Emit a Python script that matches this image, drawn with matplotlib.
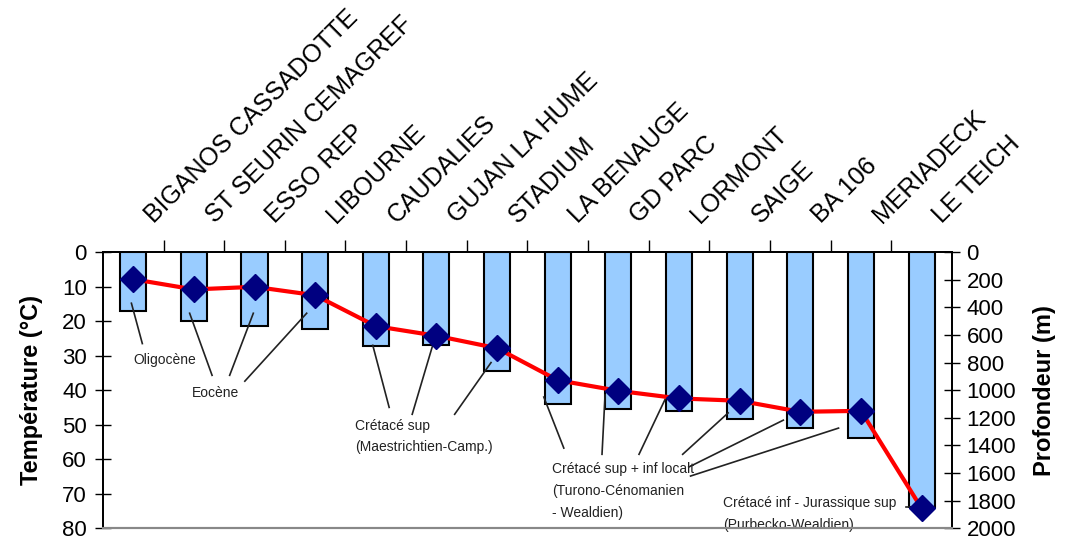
import matplotlib.pyplot as plt
import numpy as np

plt.rcParams['font.family'] = ['Liberation Sans', 'DejaVu Sans']

forages = ['BIGANOS CASSADOTTE', 'ST SEURIN CEMAGREF', 'ESSO REP', 'LIBOURNE',
           'CAUDALIES', 'GUJAN LA HUME', 'STADIUM', 'LA BENAUGE', 'GD PARC',
           'LORMONT', 'SAIGE', 'BA 106', 'MERIADECK', 'LE TEICH']
temperature = [17.1, 19.9, 21.3, 22.4, 27.2, 26.8, 34.5, 44.1, 45.6, 46.0,
               48.4, 51.1, 54.0, 73.8]
profondeur = [196, 270, 251, 312, 536, 606, 696, 928, 1005, 1060, 1077,
              1157, 1150, 1857]

x = np.arange(len(forages))

fig = plt.figure(figsize=(10.72, 5.4), dpi=100)
ax = fig.add_axes([0.096, 0.022, 0.792, 0.511])
ax2 = ax.twinx()

# temperature bars hanging from the top axis
ax.bar(x, temperature, width=0.43, color='#99CCFF', edgecolor='black',
       linewidth=1.5, zorder=2)
ax.set_ylim(80, 0)
ax.set_xlim(-0.5, len(forages) - 0.5)
ax.set_yticks(np.arange(0, 81, 10))

# depth line on the secondary axis
ax2.plot(x, profondeur, color='#FF0000', linewidth=3, marker='D',
         markersize=13, markerfacecolor='#000080', markeredgecolor='#000080',
         zorder=3)
ax2.set_ylim(2000, 0)
ax2.set_yticks(np.arange(0, 2001, 200))

# category labels on top, ticks between categories
ax.xaxis.tick_top()
ax.set_xticks(x[:-1] + 0.5)
ax.set_xticklabels([])
ax.tick_params(axis='x', direction='out', length=9, width=1, top=True,
               bottom=False)
for xi, name in zip(x, forages):
    ax.text(xi + 0.4, -7.0, name, rotation=45, rotation_mode='anchor',
            ha='left', va='bottom', fontsize=18)

ax.tick_params(axis='y', direction='inout', length=11, width=1, labelsize=16,
               pad=6)
ax2.tick_params(axis='y', direction='inout', length=11, width=1, labelsize=16,
                pad=5)
for a in (ax, ax2):
    a.spines['left'].set_linewidth(1.3)
    a.spines['right'].set_linewidth(1.3)
    a.spines['top'].set_linewidth(1.3)
    a.spines['bottom'].set_color('#888888')
    a.spines['bottom'].set_linewidth(1.5)

ax.set_ylabel('Température (°C)', fontsize=17, fontweight='bold', labelpad=14)
ax2.set_ylabel('Profondeur (m)', fontsize=17, fontweight='bold', labelpad=12)


def note(x0, lines_y, lines_txt):
    for yy, t in zip(lines_y, lines_txt):
        ax.text(x0, yy, t, fontsize=10, ha='left', va='center',
                color='#222222', zorder=5)


def leaders(segs):
    for (x0, y0), (x1, y1) in segs:
        ax.plot([x0, x1], [y0, y1], color='#222222', linewidth=1.2, zorder=4)


# stratigraphic annotations with leader lines
note(0.01, [31.3], ['Oligocène'])
leaders([((-0.03, 14.8), (0.15, 26.5))])

note(0.97, [40.9], ['Eocène'])
leaders([((0.93, 17.7), (1.30, 35.7)),
         ((1.98, 17.7), (1.59, 35.7)),
         ((2.86, 17.7), (1.84, 37.4))])

note(3.66, [50.4, 56.5], ['Crétacé sup', '(Maestrichtien-Camp.)'])
leaders([((3.95, 27.0), (4.22, 45.0)),
         ((4.98, 24.5), (4.60, 47.0)),
         ((5.90, 32.0), (5.30, 47.0))])

note(6.91, [62.9, 69.3, 75.7],
     ['Crétacé sup + inf localt', '(Turono-Cénomanien', '- Wealdien)'])
leaders([((6.77, 42.0), (7.10, 56.8)),
         ((7.78, 41.4), (7.73, 58.6)),
         ((8.78, 42.3), (8.34, 58.6)),
         ((9.81, 46.6), (9.06, 58.6)),
         ((10.72, 48.7), (9.16, 62.3)),
         ((11.63, 51.0), (9.19, 64.9))])

note(9.73, [72.8, 79.1], ['Crétacé inf - Jurassique sup', '(Purbecko-Wealdien)'])
leaders([((12.75, 74.0), (13.1, 74.0))])

plt.savefig('out.png', dpi=100)
